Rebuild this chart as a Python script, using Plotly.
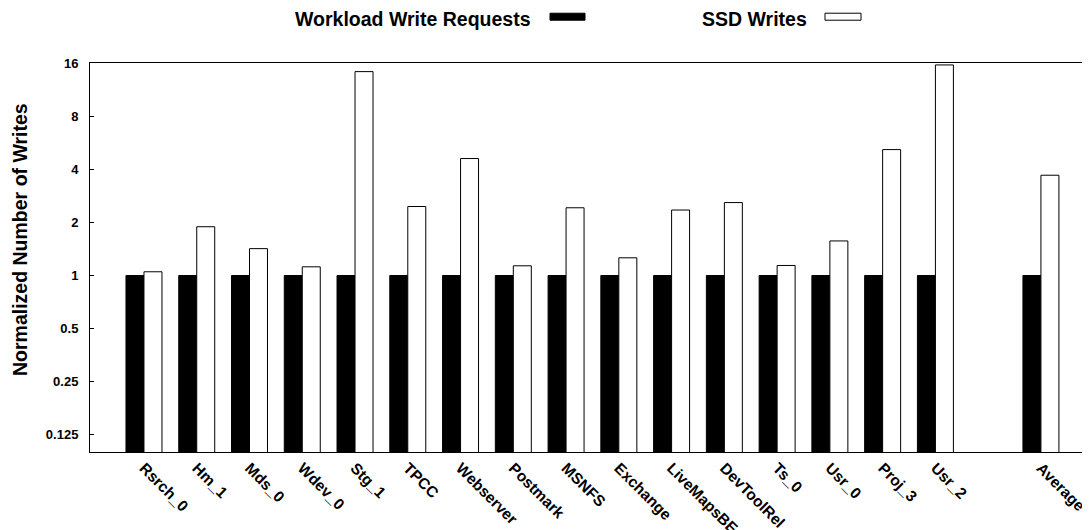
import plotly.graph_objects as go

categories = ["Rsrch_0", "Hm_1", "Mds_0", "Wdev_0", "Stg_1", "TPCC", "Webserver",
              "Postmark", "MSNFS", "Exchange", "LiveMapsBE", "DevToolRel", "Ts_0",
              "Usr_0", "Proj_3", "Usr_2", "Average"]
workload_writes = [1, 1, 1, 1, 1, 1, 1, 1, 1, 1, 1, 1, 1, 1, 1, 1, 1]
ssd_writes = [1.05, 1.89, 1.42, 1.12, 14.3, 2.46, 4.6, 1.135, 2.42, 1.26,
              2.35, 2.59, 1.14, 1.57, 5.17, 15.6, 3.70]
y_tick_values = [0.125, 0.25, 0.5, 1, 2, 4, 8, 16]
y_tick_labels = ["0.125", "0.25", "0.5", "1", "2", "4", "8", "16"]

# slot positions: one empty slot before "Average"
positions = list(range(len(categories) - 1)) + [len(categories)]

FONT = "Liberation Sans, Arial, sans-serif"

fig = go.Figure()
fig.add_trace(go.Bar(x=positions, y=workload_writes, name="Workload Write Requests",
                     marker=dict(color="black", line=dict(color="black", width=1))))
fig.add_trace(go.Bar(x=positions, y=ssd_writes, name="SSD Writes",
                     marker=dict(color="white", line=dict(color="black", width=1))))

fig.update_layout(
    width=1082, height=522,
    margin=dict(l=82, r=0, t=55, b=78),
    paper_bgcolor="white", plot_bgcolor="white",
    barmode="group", bargap=0.318, bargroupgap=0,
    showlegend=False,
    font=dict(family=FONT, color="black"),
)
fig.update_xaxes(
    range=[-1.023, 17.93], tickvals=positions, ticktext=categories,
    tickangle=45, ticks="", showgrid=False, zeroline=False,
    showline=True, linecolor="black", linewidth=1, mirror=True,
    tickfont=dict(family=FONT, size=15.5, color="black", weight="bold"),
    automargin=False,
)
fig.update_yaxes(
    type="log", range=[-1, 1.2041], tickvals=y_tick_values, ticktext=y_tick_labels,
    ticks="inside", ticklen=4, tickcolor="black", showgrid=False, zeroline=False,
    showline=True, linecolor="black", linewidth=1, mirror=False,
    tickfont=dict(family=FONT, size=13, color="black", weight="bold"),
    ticklabelstandoff=8,
    automargin=False,
)

# y-axis title (placed slightly above centre, as in reference)
fig.add_annotation(text="Normalized Number of Writes", xref="paper", yref="paper",
                   x=-0.07, y=0.545, textangle=-90, showarrow=False,
                   xanchor="center", yanchor="middle",
                   font=dict(family=FONT, size=19.5, color="black", weight="bold"))

# legend drawn as text followed by swatch (as in reference)
legend_items = [("Workload Write Requests", "black", 0.443, 0.46, 0.495),
                ("SSD Writes", "white", 0.719, 0.735, 0.771)]
for name, color, tx, x0, x1 in legend_items:
    fig.add_annotation(text=name, xref="paper", yref="paper", x=tx, y=1.113,
                       xanchor="right", yanchor="middle", showarrow=False,
                       font=dict(family=FONT, size=19.5, color="black", weight="bold"))
    fig.add_shape(type="rect", xref="paper", yref="paper", x0=x0, x1=x1,
                  y0=1.110, y1=1.128, fillcolor=color, line=dict(color="black", width=1))

fig.write_html("out.html")
